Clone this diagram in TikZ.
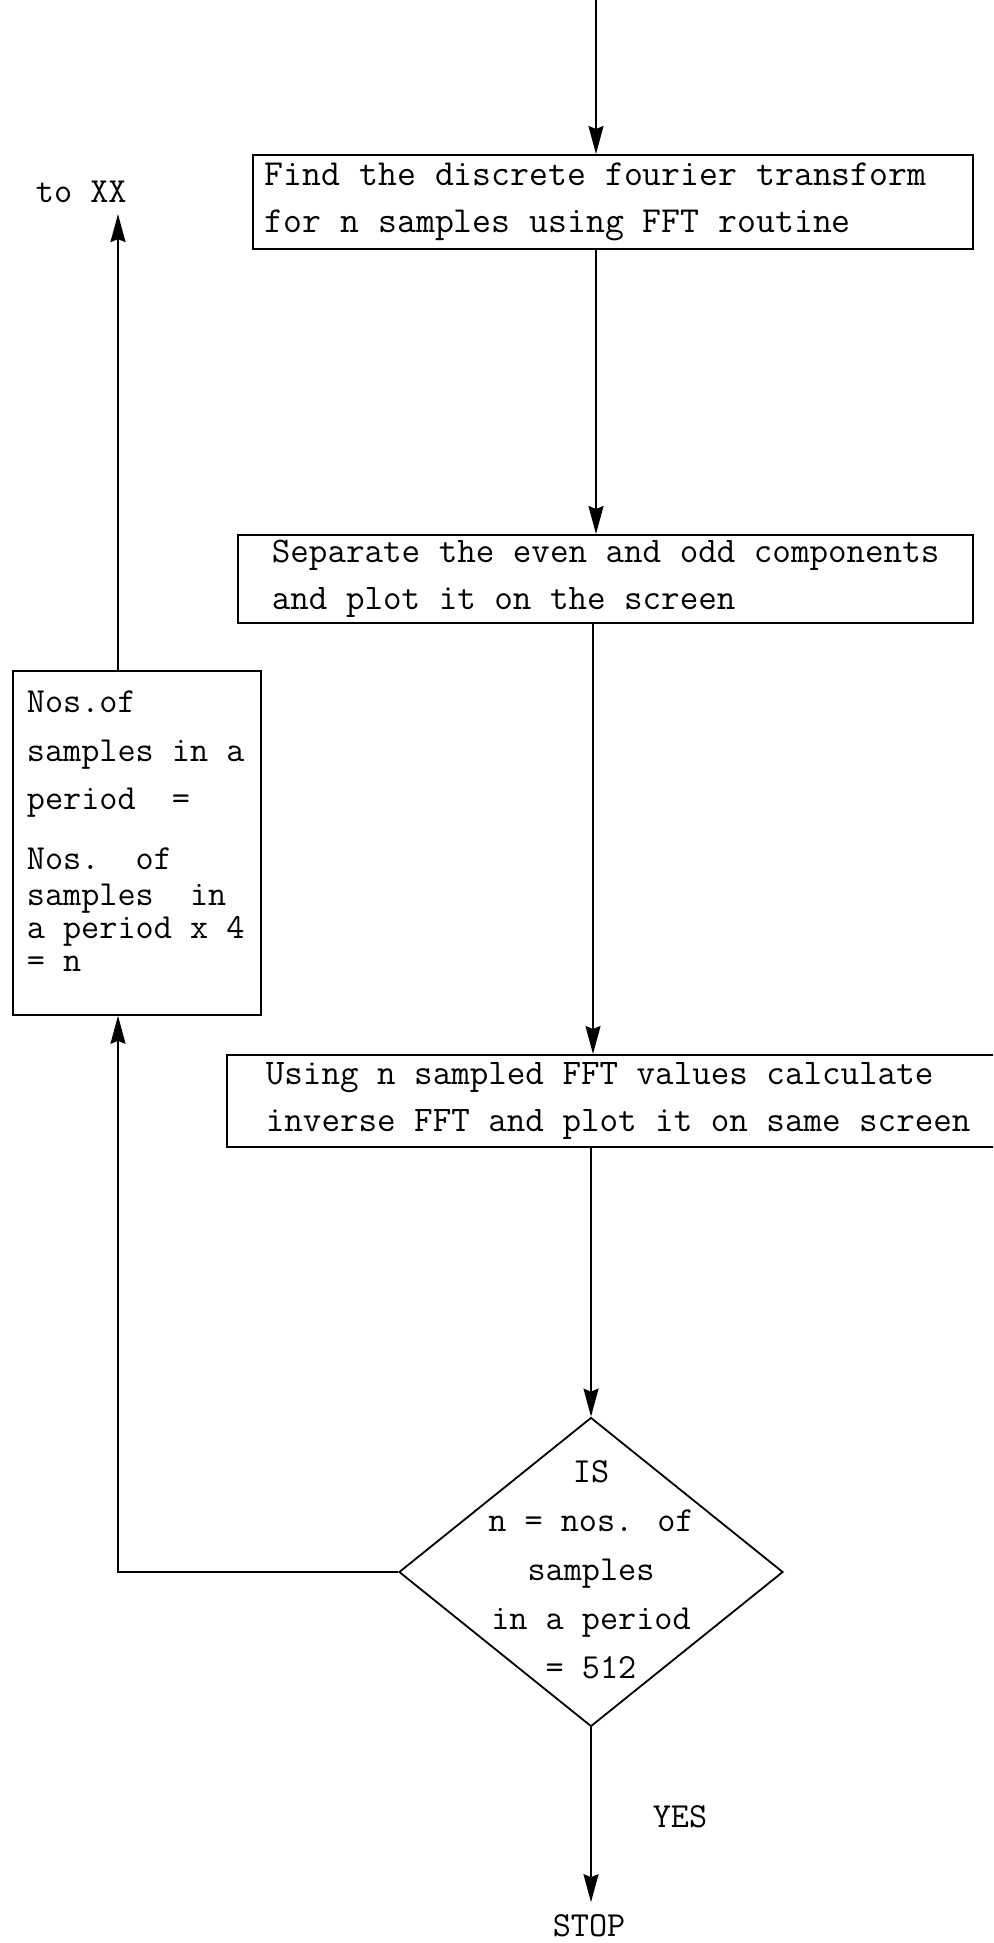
\documentclass[tikz,border=0pt]{standalone}
\usepackage{fontspec}
\usetikzlibrary{shapes.geometric,arrows.meta}
\newcommand\boxfont{\ttfamily\fontsize{36}{47}\selectfont}
\newcommand\bigboxfont{\ttfamily\fontsize{36.7}{47}\selectfont}
\newcommand\smallfont{\ttfamily\fontsize{35.2}{33}\selectfont}
\begin{document}
\begin{tikzpicture}[x=1pt,y=-1pt,
  line width=1.8pt,
  arr/.style={-{Stealth[length=28pt,width=15pt,inset=3pt]}},
  proc/.style={draw, rectangle, anchor=north west, align=flush left,
    inner ysep=0pt, font=\boxfont},
  plain/.style={font=\smallfont, inner xsep=0pt}]
\clip (0,0) rectangle (993,1943);
\fill[white] (0,0) rectangle (993,1943);

% spine positions of the main column and the feedback line
\coordinate (topin) at (596,0);
\coordinate (sp2) at (593,0);
\coordinate (lx) at (118,0);

% process boxes
\node[proc, font=\bigboxfont, text width=696pt, inner xsep=12pt, minimum height=94pt] (fft) at (252,154)
  {\mbox{Find the discrete fourier transform}\\\mbox{for n samples using FFT routine}};
\node[proc, text width=667pt, inner xsep=34pt, minimum height=88pt] (sep) at (237,534)
  {\mbox{Separate the even and odd components}\\\mbox{and plot it on the screen}};
\node[proc, text width=722pt, inner xsep=39pt, minimum height=92pt] (inv) at (226,1054)
  {\mbox{Using n sampled FFT values calculate}\\\mbox{inverse FFT and plot it on same screen}};

% sample count update box
\node[draw, anchor=north west, inner sep=0pt, font=\smallfont] (nos) at (12,670)
  {\parbox[t][344pt][t]{248pt}{\raggedright\leftskip=14pt
   \rule{0pt}{42pt}Nos.of\\[16pt]
   samples in a\\[15pt]
   period~~=\\[27pt]
   Nos.~~of\\[3pt]
   samples~~in\\
   a period x 4\\
   = n}};

% decision
\node[draw, diamond, minimum width=384pt, minimum height=309pt, inner sep=0pt,
  font=\smallfont] (dec) at (591,1572)
  {\makebox[0pt]{\smash{\raisebox{-4pt}{\parbox[c]{300pt}{\centering\baselineskip=49pt
   IS\\ n = nos. of\\ samples\\ in a period\\ = 512}}}}};

% terminal labels
\node[plain, anchor=base west, inner ysep=11pt] (toxx) at (35,202) {to XX};
\node[plain, anchor=base, inner ysep=11pt] (stop) at (589,1936) {STOP};
\node[plain] (yes) at (680,1817) {YES};

% connectors
\draw[arr] (topin) -- (topin |- fft.north);
\draw[arr] (fft.south -| topin) -- (sep.north -| topin);
\draw[arr] (sep.south -| sp2) -- (inv.north -| sp2);
\draw[arr] (inv.south -| dec.north) -- (dec.north);
\draw[arr] (dec.west) -| (nos.south -| lx);
\draw[arr] (nos.north -| lx) -- (toxx.south -| lx);
\draw[arr] (dec.south) -- (dec.south |- stop.north);
\end{tikzpicture}
\end{document}
